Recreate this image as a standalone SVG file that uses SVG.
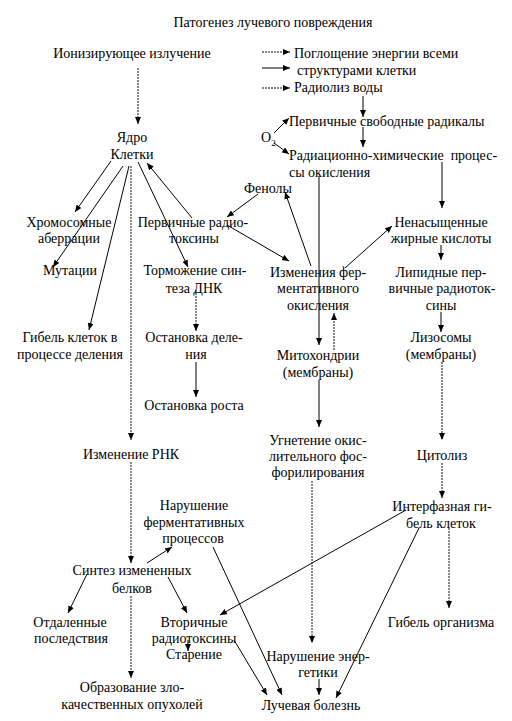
<svg xmlns="http://www.w3.org/2000/svg" width="512" height="721" viewBox="0 0 512 721" font-family="'Liberation Serif', 'Times New Roman', serif">
<defs>
<marker id="ah" markerWidth="7" markerHeight="6" refX="7" refY="3" orient="auto" markerUnits="userSpaceOnUse">
<path d="M0,0 L7,3 L0,6 z" fill="#000"/>
</marker>
<style>
text{font-family:"Liberation Serif","Times New Roman",serif;font-size:14px;fill:#000;text-anchor:middle}
text.s{text-anchor:start}
.c line{stroke:#000;stroke-width:1;fill:none;marker-end:url(#ah)}
.c line.d{stroke:#111;stroke-dasharray:2 1}
</style>
</defs>
<rect width="512" height="721" fill="#fff"/>
<text id="title" x="273" y="27">Патогенез лучевого повреждения</text>
<g id="ion"><text x="132" y="58">Ионизирующее излучение</text></g>
<g id="absorb"><text class="s" x="294" y="58">Поглощение энергии всеми</text><text class="s" x="297" y="75">структурами клетки</text></g>
<g id="radiolysis"><text class="s" x="294" y="92">Радиолиз воды</text></g>
<g id="freerad"><text class="s" x="289" y="126">Первичные свободные радикалы</text></g>
<g id="radchem"><text class="s" x="289" y="160" style="white-space:pre">Радиационно-химические  процес-</text><text class="s" x="289" y="177">сы окисления</text></g>
<g id="o2"><text class="s" x="261" y="142">O<tspan font-size="9" dy="4">2</tspan></text></g>
<g id="nucleus"><text x="132" y="142">Ядро</text><text x="132" y="159">Клетки</text></g>
<g id="phenols"><text x="268" y="193">Фенолы</text></g>
<g id="chrom"><text x="69" y="227">Хромосомные</text><text x="69" y="243">аберрации</text></g>
<g id="primtox"><text x="193" y="227">Первичные радио-</text><text x="194" y="243">токсины</text></g>
<g id="unsat"><text x="441" y="227">Ненасыщенные</text><text x="441" y="243">жирные кислоты</text></g>
<g id="mut"><text x="70" y="275">Мутации</text></g>
<g id="dna"><text x="195" y="275">Торможение син-</text><text x="194" y="293">теза ДНК</text></g>
<g id="enzox"><text x="318" y="277">Изменения фер-</text><text x="318" y="293">ментативного</text><text x="318" y="310">окисления</text></g>
<g id="lipid"><text x="441" y="277">Липидные пер-</text><text x="442" y="293">вичные радиоток-</text><text x="441" y="310">сины</text></g>
<g id="death"><text x="70" y="342">Гибель клеток в</text><text x="70" y="359">процессе деления</text></g>
<g id="divstop"><text x="194" y="342">Остановка деле-</text><text x="196" y="359">ния</text></g>
<g id="lyso"><text x="441" y="342">Лизосомы</text><text x="441" y="359">(мембраны)</text></g>
<g id="mito"><text x="318" y="360">Митохондрии</text><text x="318" y="377">(мембраны)</text></g>
<g id="growth"><text x="194" y="410">Остановка роста</text></g>
<g id="oxphos"><text x="318" y="445">Угнетение окис-</text><text x="318" y="461">лительного фос-</text><text x="318" y="477">форилирования</text></g>
<g id="rna"><text x="131" y="459">Изменение РНК</text></g>
<g id="cytol"><text x="442" y="460">Цитолиз</text></g>
<g id="enzdis"><text x="194" y="510">Нарушение</text><text x="194" y="527">ферментативных</text><text x="193" y="543">процессов</text></g>
<g id="interph"><text x="442" y="511">Интерфазная ги-</text><text x="441" y="528">бель клеток</text></g>
<g id="protein"><text x="132" y="575">Синтез измененных</text><text x="132" y="593">белков</text></g>
<g id="remote"><text x="70" y="627">Отдаленные</text><text x="71" y="643">последствия</text></g>
<g id="sectox"><text x="194" y="627">Вторичные</text><text x="194" y="643">радиотоксины</text><text x="194" y="659">Старение</text></g>
<g id="orgdeath"><text x="441" y="627">Гибель организма</text></g>
<g id="energy"><text x="318" y="661">Нарушение энер-</text><text x="318" y="677">гетики</text></g>
<g id="tumor"><text x="132" y="692">Образование зло-</text><text x="132" y="709">качественных опухолей</text></g>
<g id="sickness"><text x="311" y="710">Лучевая болезнь</text></g>
<g class="c" id="connectors">
<line class="d" x1="138" y1="68" x2="138" y2="124"/>
<line class="d" x1="262" y1="52" x2="290" y2="52"/>
<line x1="262" y1="68" x2="290" y2="68"/>
<line class="d" x1="262" y1="88" x2="290" y2="88"/>
<line x1="363" y1="96" x2="363" y2="117"/>
<line x1="363" y1="127" x2="363" y2="147"/>
<line x1="274" y1="133" x2="289" y2="118"/>
<line x1="274" y1="143" x2="289" y2="154"/>
<line x1="111" y1="161" x2="75" y2="212"/>
<line x1="123" y1="166" x2="53" y2="267"/>
<line x1="129" y1="166" x2="89" y2="330"/>
<line class="d" x1="131" y1="166" x2="131" y2="440"/>
<line x1="138" y1="162" x2="188" y2="267"/>
<line x1="192" y1="218" x2="147" y2="163"/>
<line x1="258" y1="194" x2="227" y2="217"/>
<line x1="227" y1="225" x2="289" y2="261"/>
<line x1="311" y1="266" x2="285" y2="192"/>
<line x1="319" y1="176" x2="319" y2="345"/>
<line x1="442" y1="162" x2="442" y2="208"/>
<line x1="345" y1="268" x2="392" y2="226"/>
<line x1="441" y1="245" x2="441" y2="260"/>
<line x1="441" y1="312" x2="441" y2="332"/>
<line class="d" x1="442" y1="362" x2="442" y2="440"/>
<line class="d" x1="442" y1="463" x2="442" y2="498"/>
<line class="d" x1="334" y1="350" x2="334" y2="313"/>
<line x1="319" y1="380" x2="319" y2="427"/>
<line class="d" x1="312" y1="481" x2="312" y2="643"/>
<line class="d" x1="196" y1="290" x2="196" y2="331"/>
<line x1="196" y1="362" x2="196" y2="397"/>
<line class="d" x1="131" y1="462" x2="131" y2="563"/>
<line x1="147" y1="563" x2="172" y2="547"/>
<line x1="87" y1="574" x2="68" y2="613"/>
<line x1="168" y1="577" x2="187" y2="613"/>
<line class="d" x1="131" y1="596" x2="131" y2="678"/>
<line x1="188" y1="640" x2="188" y2="651"/>
<line x1="234" y1="640" x2="267" y2="695"/>
<line x1="213" y1="547" x2="282" y2="695"/>
<line x1="319" y1="679" x2="319" y2="695"/>
<line x1="419" y1="528" x2="336" y2="698"/>
<line x1="406" y1="510" x2="220" y2="615"/>
<line class="d" x1="449" y1="528" x2="449" y2="608"/>
</g>
</svg>
